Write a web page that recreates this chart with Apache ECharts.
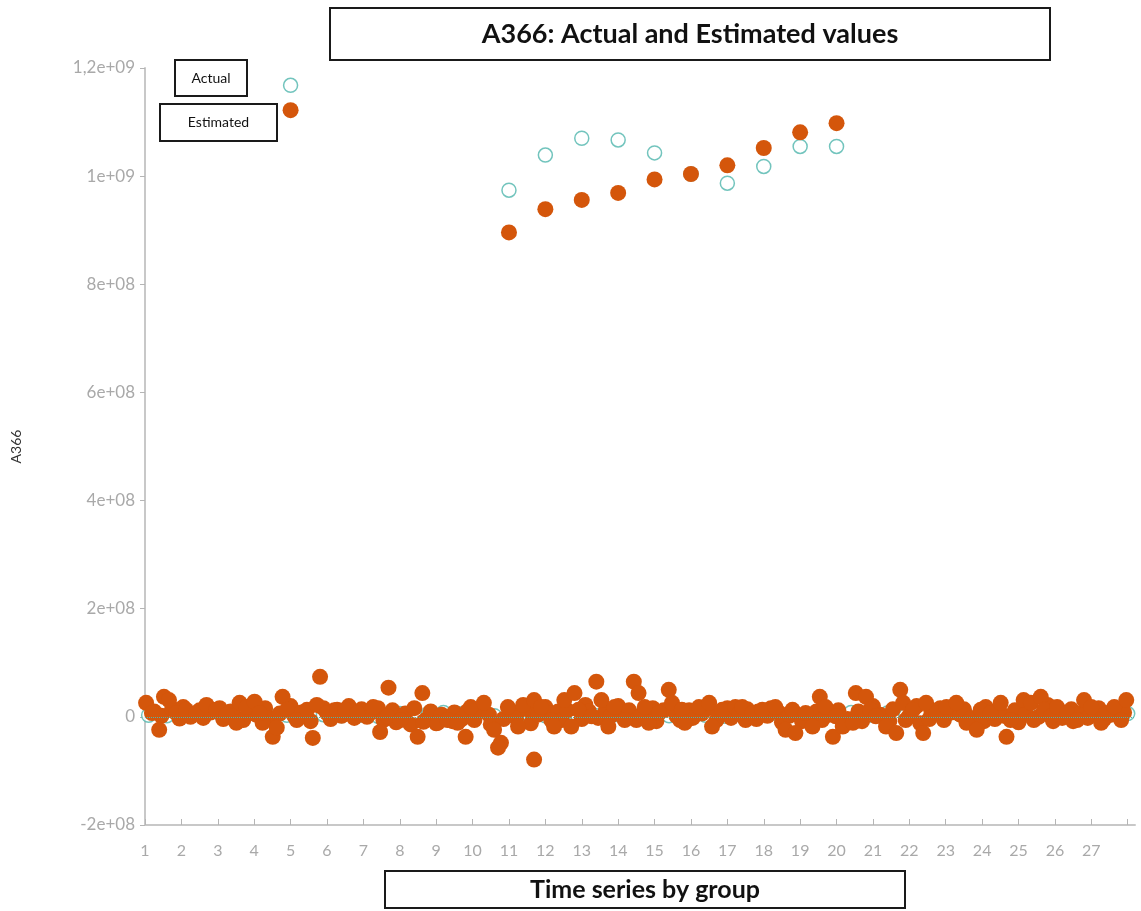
<!DOCTYPE html>
<html>
<head>
<meta charset="utf-8">
<title>A366: Actual and Estimated values</title>
<script src="https://cdn.jsdelivr.net/npm/echarts@6/dist/echarts.min.js"></script>
<style>
  html, body { margin: 0; padding: 0; background: #fff; }
  #main { width: 1141px; height: 911px; }
</style>
</head>
<body>
<div id="main"></div>
<script>
// x axis ticks (group number) and y axis ticks
const xTicks = [1, 2, 3, 4, 5, 6, 7, 8, 9, 10, 11, 12, 13, 14, 15, 16, 17, 18, 19, 20, 21, 22, 23, 24, 25, 26, 27];
const yTicks = [-2e8, 0, 2e8, 4e8, 6e8, 8e8, 1e9, 1.2e9];

// points far above zero (groups 5 and 11..20)
const actualHigh = [[5, 1.168e9], [11, 0.974e9], [12, 1.039e9], [13, 1.070e9], [14, 1.067e9], [15, 1.043e9],
  [16, 1.004e9], [17, 0.987e9], [18, 1.018e9], [19, 1.055e9], [20, 1.055e9]];
const estimatedHigh = [[5, 1.122e9], [11, 0.896e9], [12, 0.939e9], [13, 0.956e9], [14, 0.969e9], [15, 0.994e9],
  [16, 1.004e9], [17, 1.020e9], [18, 1.052e9], [19, 1.081e9], [20, 1.098e9]];

// actual values close to zero
const actualLow = [[1.1, 3e6], [1.6, 2e6], [2.1, 4e6], [2.6, 1e6], [3.1, 3e6], [3.6, 5e6], [4.0, 7e6], [4.4, 2e6],
  [4.9, 3e6], [5.4, 1e6], [5.9, 4e6], [6.4, 2e6], [6.9, 3e6], [7.4, 1e6], [7.7, 5e6], [8.0, 6e6], [8.4, 8e6],
  [8.8, 7e6], [9.2, 8e6], [9.6, 6e6], [10.0, 4e6], [10.6, 2e6], [11.0, 3e6], [11.5, 5e6], [12.0, 2e6], [12.5, 3e6],
  [12.9, 0], [13.4, 2e6], [13.9, 4e6], [14.4, 3e6], [14.9, 5e6], [15.4, 2e6], [15.9, 4e6], [16.4, 3e6], [16.9, 1e6],
  [17.4, 2e6], [17.9, 3e6], [18.4, 4e6], [18.9, -9e6], [19.5, 6e6], [20.0, 2e6], [20.4, 8e6], [20.9, 3e6],
  [21.4, 7e6], [21.9, 2e6], [22.4, 3e6], [22.9, 1e6], [23.4, 4e6], [23.9, 2e6], [24.4, 5e6], [24.8, 0], [25.3, 3e6],
  [25.8, 6e6], [26.3, 2e6], [26.8, 4e6], [27.3, 6e6], [27.8, 3e6], [28.0, 6e6]];

// estimated values close to zero: the spread-out ones
const estimatedLow = [
  [1.03, 26e6], [1.52, 37e6], [1.66, 31e6], [1.39, -24e6], [1.19, 7e6], [1.86, 7e6], [2.13, 13e6], [2.41, 7e6],
  [2.69, 22e6], [2.96, 13e6], [3.24, 4e6], [3.51, -11e6], [3.60, 26e6], [3.79, 18e6], [4.01, 28e6], [4.23, -11e6],
  [4.15, 7e6], [4.51, -37e6], [4.62, -20e6], [4.78, 37e6], [4.90, 13e6], [5.17, -6e6], [5.45, 13e6], [5.61, -39e6],
  [5.81, 74e6], [5.72, 22e6], [6.00, 7e6], [6.28, 13e6],
  [6.50, 13e6], [6.83, 7e6], [7.27, 18e6], [7.46, -28e6], [7.69, 54e6], [7.66, 1e6], [8.02, -6e6], [8.49, -37e6],
  [8.62, 44e6], [8.65, -9e6], [9.04, -11e6], [9.31, -6e6], [9.59, -11e6], [9.81, -37e6], [9.95, 18e6], [10.31, 26e6],
  [10.59, -24e6], [10.78, -48e6], [10.70, -57e6], [10.97, 18e6], [11.25, -18e6], [11.39, 22e6], [11.69, -79e6],
  [11.69, 31e6],
  [11.88, 18e6], [12.16, -6e6], [12.24, -18e6], [12.52, 31e6], [12.71, -18e6], [12.80, 44e6], [12.91, 13e6],
  [13.27, 1e6], [13.40, 65e6], [13.54, 31e6], [13.73, -18e6], [13.90, 18e6], [14.18, -6e6], [14.43, 65e6],
  [14.56, 44e6], [14.73, 18e6], [14.84, -11e6], [15.12, 7e6], [15.39, 50e6], [15.48, 26e6], [15.75, 13e6],
  [15.83, -11e6], [16.22, 18e6], [16.50, 26e6], [16.58, -18e6], [16.86, 13e6], [17.22, 18e6], [17.33, 7e6],
  [17.41, 18e6], [17.69, 7e6], [17.96, 13e6], [18.32, 18e6], [18.60, -24e6], [18.79, 13e6], [18.87, -30e6],
  [19.15, 7e6], [19.34, -18e6], [19.54, 37e6], [19.70, 18e6], [19.90, -37e6], [19.98, 1e6], [20.17, -18e6],
  [20.45, -11e6], [20.53, 44e6], [20.81, 37e6], [20.92, 13e6], [21.08, 1e6], [21.36, -18e6], [21.64, -30e6],
  [21.75, 50e6], [21.83, 26e6], [22.10, 13e6], [22.38, -30e6], [22.46, 26e6], [22.74, 7e6],
  [23.02, 18e6], [23.29, 26e6], [23.57, -11e6], [23.85, -24e6], [23.96, 13e6], [24.23, 7e6], [24.51, 26e6],
  [24.67, -37e6], [24.78, -6e6], [25.14, 31e6], [25.34, 26e6], [25.42, -6e6], [25.61, 37e6], [25.70, 13e6],
  [25.89, 1e6], [26.06, 18e6], [26.33, 7e6], [26.61, -6e6], [26.80, 31e6], [27.00, 18e6], [27.27, -11e6],
  [27.44, 7e6], [27.63, 18e6], [27.82, -6e6], [27.96, 31e6]
];

// estimated values close to zero: the dense band around the zero line
const estimatedBand = [
  [1.25, 10e6], [1.45, 2e6], [1.75, 15e6], [1.95, -3e6], [2.05, 18e6], [2.25, 0], [2.5, 12e6], [2.6, -2e6],
  [2.8, 8e6], [3.05, 16e6], [3.15, -4e6], [3.35, 10e6], [3.45, 2e6], [3.7, -6e6], [3.9, 12e6], [4.05, 4e6],
  [4.3, 16e6], [4.4, -3e6], [4.7, 6e6], [5.0, 20e6], [5.1, 2e6], [5.3, 8e6], [5.55, -8e6], [5.9, 16e6],
  [6.1, -4e6], [6.2, 12e6], [6.4, 2e6], [6.6, 20e6], [6.75, -2e6], [6.95, 14e6], [7.1, 0], [7.2, 8e6],
  [7.4, 16e6], [7.55, -6e6], [7.8, 12e6], [7.9, -10e6], [8.15, 6e6], [8.3, -14e6], [8.4, 16e6], [8.75, -4e6],
  [8.85, 10e6], [9.0, -12e6], [9.15, 4e6], [9.45, -8e6], [9.5, 8e6], [9.7, -4e6], [9.85, 10e6], [10.05, -6e6],
  [10.2, 12e6], [10.45, 4e6], [10.5, -14e6], [10.85, -4e6], [11.1, 8e6], [11.2, -2e6], [11.5, 14e6], [11.6, -12e6],
  [11.8, 4e6], [12.0, 18e6], [12.1, 6e6], [12.35, 10e6], [12.45, -6e6], [12.6, 12e6], [13.0, -4e6], [13.1, 22e6],
  [13.2, 10e6], [13.45, -2e6], [13.65, 10e6], [13.8, 2e6], [14.0, 20e6], [14.1, 4e6], [14.3, 12e6], [14.5, -6e6],
  [14.65, 4e6], [14.95, 16e6], [15.05, -8e6], [15.25, 12e6], [15.6, 2e6], [15.7, -6e6], [15.95, 12e6],
  [16.05, -2e6], [16.3, 6e6], [16.4, 14e6], [16.7, -6e6], [16.75, 8e6], [17.0, 16e6], [17.1, -2e6], [17.5, -6e6],
  [17.55, 14e6], [17.8, -4e6], [17.85, 10e6], [18.1, 2e6], [18.2, 16e6], [18.45, 6e6], [18.5, -10e6], [18.7, 2e6],
  [19.05, -8e6], [19.25, 4e6], [19.45, 10e6], [19.6, -6e6], [19.8, 4e6], [20.05, 12e6], [20.3, -4e6], [20.6, 10e6],
  [20.7, -8e6], [21.0, 20e6], [21.2, 4e6], [21.45, -8e6], [21.55, 14e6], [21.9, -6e6], [22.0, 2e6], [22.2, 20e6],
  [22.3, -12e6], [22.55, -4e6], [22.6, 12e6], [22.85, 16e6], [22.95, -6e6], [23.15, 8e6], [23.4, 4e6],
  [23.5, 14e6], [23.7, -2e6], [24.05, -8e6], [24.1, 18e6], [24.35, -4e6], [24.45, 12e6], [24.6, 2e6],
  [24.9, 12e6], [25.0, -10e6], [25.2, 6e6], [25.55, 0], [25.8, 22e6], [25.95, -8e6], [26.15, 10e6], [26.2, -2e6],
  [26.45, 14e6], [26.5, -8e6], [26.7, 6e6], [26.9, -2e6], [27.1, 6e6], [27.2, 16e6], [27.35, -4e6], [27.55, 4e6],
  [27.7, 12e6], [27.9, 8e6]
];

const tealColor = '#4fb5ad';
const orangeColor = '#d4560b';
const labelGray = '#a9a9a9';
const fontName = 'Lato';

// 1,2e+09 style labels
function sciLabel(v) {
  if (v === 0) return '0';
  let e = Math.floor(Math.log10(Math.abs(v)) + 1e-9);
  let m = Math.round(v / Math.pow(10, e) * 10) / 10;
  let exp = (e < 10 ? '0' : '') + e;
  return String(m).replace('.', ',') + 'e+' + exp;
}

// box with centred text (title and annotations)
function textBox(x, y, w, h, text, size, bold) {
  return {
    type: 'group',
    children: [
      {
        type: 'rect',
        shape: { x: x, y: y, width: w, height: h },
        style: { fill: '#fff', stroke: '#1a1a1a', lineWidth: 2 },
        z: 100
      },
      {
        type: 'text',
        x: x + w / 2,
        y: y + h / 2,
        style: {
          text: text,
          fill: '#111',
          font: (bold ? 'bold ' : '') + size + 'px ' + fontName,
          textAlign: 'center',
          textVerticalAlign: 'middle'
        },
        z: 101
      }
    ]
  };
}

var chart = echarts.init(document.getElementById('main'), null, { renderer: 'canvas' });

var option = {
  backgroundColor: '#fff',
  animation: false,
  grid: { left: 145, right: 6, top: 68, bottom: 86, containLabel: false },
  xAxis: {
    type: 'value',
    min: 1,
    max: 28.2,
    interval: 1,
    splitLine: { show: false },
    axisLine: { onZero: false, lineStyle: { color: '#c8c8c8', width: 2 } },
    axisTick: { inside: true, length: 6, lineStyle: { color: '#b5b5b5' } },
    axisLabel: {
      color: labelGray,
      fontSize: 16,
      fontFamily: fontName,
      margin: 18,
      showMaxLabel: false,
      formatter: function (v) { return xTicks.indexOf(v) >= 0 ? String(v) : ''; }
    }
  },
  yAxis: {
    type: 'value',
    min: yTicks[0],
    max: yTicks[yTicks.length - 1],
    interval: 2e8,
    name: 'A366',
    nameLocation: 'middle',
    nameGap: 122,
    nameRotate: 90,
    nameTextStyle: { color: '#333', fontSize: 14, fontFamily: fontName },
    splitLine: { show: false },
    axisLine: { show: true, lineStyle: { color: '#c8c8c8', width: 2 } },
    axisTick: { show: true, length: 5, lineStyle: { color: '#b5b5b5' } },
    axisLabel: {
      color: labelGray,
      fontSize: 17,
      fontFamily: fontName,
      margin: 10,
      formatter: sciLabel
    }
  },
  series: [
    {
      name: 'Actual',
      type: 'scatter',
      symbol: 'circle',
      symbolSize: 14,
      itemStyle: { color: '#fff', borderColor: tealColor, borderWidth: 1.5 },
      data: actualLow.concat(actualHigh),
      markLine: {
        silent: true,
        symbol: 'none',
        label: { show: false },
        lineStyle: { color: tealColor, type: 'dotted', width: 1 },
        data: [{ yAxis: 0 }]
      },
      z: 2
    },
    {
      name: 'Estimated',
      type: 'scatter',
      symbol: 'circle',
      symbolSize: 16,
      itemStyle: { color: orangeColor, opacity: 1 },
      data: estimatedBand.concat(estimatedLow, estimatedHigh),
      z: 3
    }
  ],
  graphic: [
    textBox(330, 8, 720, 52, 'A366: Actual and Estimated values', 27, true),
    textBox(175, 60, 72, 36, 'Actual', 14, false),
    textBox(160, 104, 117, 37, 'Estimated', 14, false),
    textBox(385, 871, 520, 37, 'Time series by group', 25, true)
  ]
};

chart.setOption(option);
</script>
</body>
</html>
